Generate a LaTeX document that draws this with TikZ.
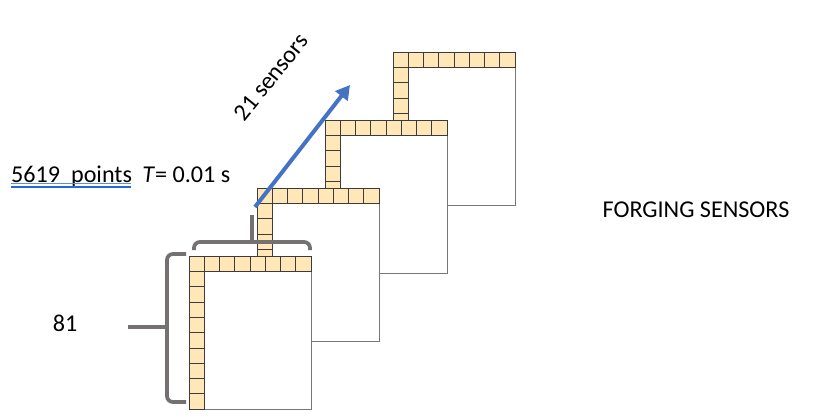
\documentclass[tikz,border=0pt]{standalone}
\usepackage{fontspec}
\setmainfont{Carlito}
\usetikzlibrary{positioning,arrows.meta}
\definecolor{cellfill}{RGB}{255,231,183}
\definecolor{cellline}{RGB}{60,60,60}
\definecolor{framegray}{RGB}{120,120,120}
\definecolor{bracegray}{RGB}{118,113,113}
\definecolor{arrowblue}{RGB}{68,114,196}
\definecolor{lineblue}{RGB}{40,100,220}

\begin{document}
\begin{tikzpicture}[x=0.03cm,y=-0.03cm,
    cell/.style={draw=cellline,fill=cellfill,line width=0.5pt},
    sheet/.style={draw=framegray,fill=white,line width=0.6pt},
    brace/.style={draw=bracegray,line width=3.2pt,rounded corners=5pt},
    label/.style={font=\fontsize{20.6}{24}\selectfont,inner sep=0pt}]
  \useasboundingbox (0,0) rectangle (835,419);
  % frames, back to front
  \foreach \k in {3,2,1,0}{
    \begin{scope}[shift={(189+68*\k,256-68*\k)}]
      \draw[sheet] (0,0) rectangle (122,153);
      \foreach \i in {0,...,7}
        \draw[cell] (\i*15.25,0) rectangle ++(15.25,15.3);
      \foreach \j in {1,...,9}
        \draw[cell] (0,\j*15.3) rectangle ++(15.25,15.3);
    \end{scope}
  }
  % braces
  \draw[brace] (194,250) -- (194,242) -- (310,242) -- (310,250);
  \draw[bracegray,line width=3.2pt] (252,242) -- (252,215);
  \draw[brace] (186,254) -- (167,254) -- (167,402) -- (186,402);
  \draw[bracegray,line width=3.2pt] (167,327) -- (128,327);
  % arrow
  \coordinate (start) at (255,207);
  \coordinate (end) at (350,85);
  \draw[arrowblue,line width=3.4pt,-{Triangle[length=12pt,width=13pt]}] (start) -- (end);
  % labels
  \node[label] (rows) at (65,323) {81};
  \node[label,rotate=51] (sens) at (271,77) {21 sensors};
  \node[label,anchor=base west] (pts) at (11,182) {5619~~points};
  \node[label,right=10 of pts.base east,anchor=base west] (per) {\textit{T}= 0.01 s};
  \draw[lineblue!75,line width=0.9pt] (pts.base west) ++(0,1.5) -- ++(120,0);
  \draw[lineblue,line width=0.9pt] (pts.base west) ++(0,5) -- ++(120,0);
  \node[label] (title) at (696,210) {FORGING SENSORS};
\end{tikzpicture}
\end{document}
